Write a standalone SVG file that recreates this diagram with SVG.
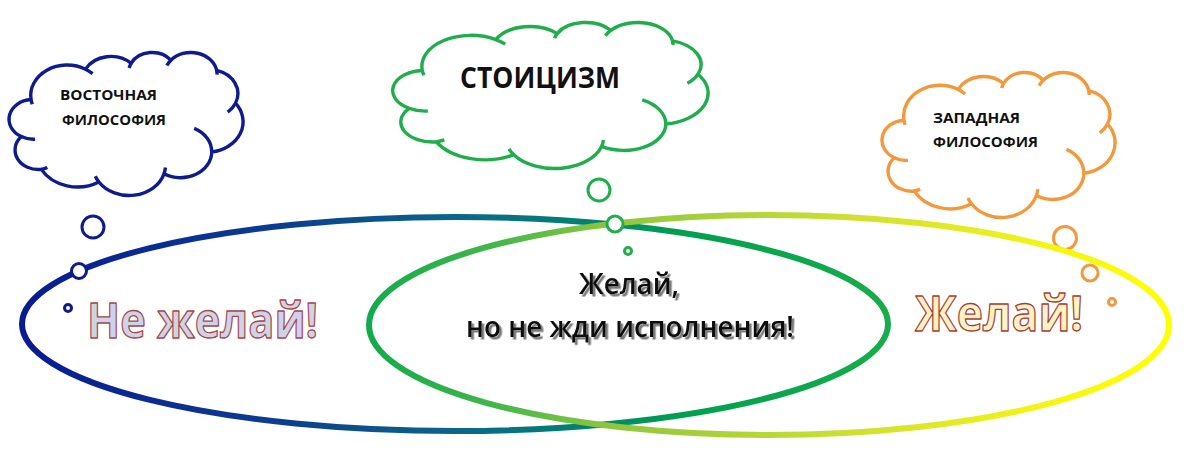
<svg xmlns="http://www.w3.org/2000/svg" xmlns:xlink="http://www.w3.org/1999/xlink" width="1200" height="465" viewBox="0 0 1200 465">
<defs>
<linearGradient id="gLeft" gradientUnits="userSpaceOnUse" x1="22" y1="0" x2="888" y2="0">
<stop offset="0" stop-color="#0a1a92"/>
<stop offset="0.3" stop-color="#0b3e90"/>
<stop offset="0.5" stop-color="#0b6689"/>
<stop offset="0.66" stop-color="#00846f"/>
<stop offset="0.76" stop-color="#00a04f"/>
<stop offset="1" stop-color="#17ad4a"/>
</linearGradient>
<linearGradient id="gRight" gradientUnits="userSpaceOnUse" x1="369" y1="0" x2="1169" y2="0">
<stop offset="0" stop-color="#12ab4b"/>
<stop offset="0.15" stop-color="#3fb64a"/>
<stop offset="0.3" stop-color="#8dc63f"/>
<stop offset="0.6" stop-color="#cde030"/>
<stop offset="0.85" stop-color="#f5f514"/>
<stop offset="1" stop-color="#ffff00"/>
</linearGradient>
<filter id="shadow" x="-5%" y="-20%" width="115%" height="150%">
<feDropShadow dx="2.5" dy="2.5" stdDeviation="0.4" flood-color="#7a7a7a" flood-opacity="1"/>
</filter>
<path id="cloudOuter" vector-effect="non-scaling-stroke" d="M 3900 14370 A 6753 9190 0 0 1 14004 5199 A 5333 7267 0 0 1 22455 3428 A 4365 5945 0 0 1 29832 2477 A 4857 6595 0 0 1 38317 5572 A 5333 7273 0 0 1 41815 15457 A 6775 9220 0 0 1 37400 30199 A 5785 7867 0 0 1 28554 36811 A 6752 9215 0 0 1 16479 39262 A 7720 10543 0 0 1 5807 35470 A 4360 5918 0 0 1 2114 25549 A 4345 5945 0 0 1 3900 14370 Z"/>
<path id="cloudInner" vector-effect="non-scaling-stroke" fill="none" d="M 4647 26345 A 4345 5945 0 0 1 2114 25549 M 6928 34899 A 4360 5918 0 0 1 5807 35470 M 16479 39262 A 6752 9215 0 0 1 15811 37521 M 28821 34902 A 6752 9215 0 0 1 28554 36811 M 34151 23065 A 5785 7867 0 0 1 37400 30199 M 41815 15457 A 5333 7273 0 0 1 40367 18132 M 38317 5572 A 4857 6595 0 0 1 38394 6835 M 29090 4088 A 4857 6595 0 0 1 29832 2477 M 22095 4819 A 4365 5945 0 0 1 22455 3428 M 14004 5199 A 6753 9190 0 0 1 15308 6552 M 4127 15788 A 6753 9190 0 0 1 3900 14370"/>
</defs>
<style>
.cl{fill:#fff;stroke-width:3.4;stroke-linejoin:round}
.ci{fill:none;stroke-width:3.4;stroke-linecap:butt}
.bub{fill:#fff;stroke-width:3}
.blue{stroke:#0d1b8e}
.green{stroke:#1fae4b}
.orange{stroke:#f3993d}
.ct{font-family:"Open Sans","Noto Sans","DejaVu Sans",sans-serif;font-weight:bold;fill:#111}
.big{font-family:"Open Sans","Noto Sans","DejaVu Sans",sans-serif;font-weight:bold;font-size:49px;stroke-width:1.3;stroke-linejoin:round}
.mid{font-family:"Open Sans","Noto Sans","DejaVu Sans",sans-serif;font-size:28px;font-weight:600;text-anchor:middle;fill:#0a0a0a;filter:url(#shadow)}
</style>
<rect width="1200" height="465" fill="#fff"/>

<g id="west">
<g transform="translate(883,72) scale(0.0053704,0.0033565)">
<use xlink:href="#cloudOuter" class="cl orange"/>
<use xlink:href="#cloudInner" class="ci orange"/>
</g>
<circle class="bub orange" cx="1065" cy="238" r="11.5"/>
<circle class="bub orange" cx="1090" cy="273" r="8"/>
<circle class="bub orange" cx="1112" cy="302" r="3.5" stroke-width="2.5"/>
<text class="ct" font-size="15" x="933" y="123" textLength="87" lengthAdjust="spacingAndGlyphs">ЗАПАДНАЯ</text>
<text class="ct" font-size="15" x="933" y="147" textLength="105" lengthAdjust="spacingAndGlyphs">ФИЛОСОФИЯ</text>
</g>

<g id="connectors">
<ellipse id="eastSet" cx="455" cy="324" rx="433" ry="107" fill="none" stroke="url(#gLeft)" stroke-width="6"/>
<ellipse id="westSet" cx="769" cy="325" rx="400" ry="110" fill="none" stroke="url(#gRight)" stroke-width="6"/>
</g>

<g id="east">
<g transform="translate(10,52) scale(0.0053935,0.0033102)">
<use xlink:href="#cloudOuter" class="cl blue"/>
<use xlink:href="#cloudInner" class="ci blue"/>
</g>
<circle class="bub blue" cx="93" cy="227" r="11"/>
<circle class="bub blue" cx="79" cy="271" r="7.5"/>
<circle class="bub blue" cx="68" cy="308" r="3.5" stroke-width="2.5"/>
<text class="ct" font-size="15" x="60" y="100" textLength="97" lengthAdjust="spacingAndGlyphs">ВОСТОЧНАЯ</text>
<text class="ct" font-size="15" x="62" y="125" textLength="104" lengthAdjust="spacingAndGlyphs">ФИЛОСОФИЯ</text>
</g>

<g id="stoicism">
<g transform="translate(394,22) scale(0.0072685,0.0033796)">
<use xlink:href="#cloudOuter" class="cl green"/>
<use xlink:href="#cloudInner" class="ci green"/>
</g>
<circle class="bub green" cx="599" cy="190" r="11"/>
<circle class="bub green" cx="615" cy="224" r="8"/>
<circle class="bub green" cx="628" cy="251" r="3.5" stroke-width="2.5"/>
<text class="ct" font-size="28" x="460" y="88" textLength="160" lengthAdjust="spacingAndGlyphs">СТОИЦИЗМ</text>
</g>

<g id="labelEast">
<text class="big" x="87" y="338" textLength="231" lengthAdjust="spacingAndGlyphs" fill="#cdd4ea" stroke="#a94646">Не желай!</text>
</g>
<g id="labelWest">
<text class="big" x="915" y="331" textLength="168" lengthAdjust="spacingAndGlyphs" fill="#fff2c4" stroke="#a53d34">Желай!</text>
</g>
<g id="labelStoic">
<text class="mid" x="629" y="294" textLength="100" lengthAdjust="spacingAndGlyphs">Желай,</text>
<text class="mid" x="630" y="337" textLength="328" lengthAdjust="spacingAndGlyphs">но не жди исполнения!</text>
</g>
</svg>
